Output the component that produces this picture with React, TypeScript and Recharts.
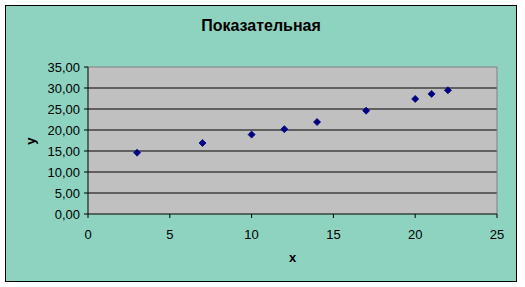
import { ScatterChart, Scatter, XAxis, YAxis, CartesianGrid, ReferenceLine, Label } from "recharts";

const xValues = [3, 7, 10, 12, 14, 17, 20, 21, 22];
const yValues = [14.6, 16.9, 18.9, 20.2, 21.9, 24.6, 27.4, 28.6, 29.45];
const xTicks = [0, 5, 10, 15, 20, 25];
const yTicks = [0, 5, 10, 15, 20, 25, 30, 35];
const title = "Показательная";

const points = xValues.map((x, i) => ({ x, y: yValues[i] }));

const FONT = "Arial, 'Liberation Sans', sans-serif";

const Diamond = (props: any) => {
     const { cx, cy } = props;
     const r = 3.5;
     return (
          <path
               d={`M${cx},${cy - r}L${cx + r},${cy}L${cx},${cy + r}L${cx - r},${cy}Z`}
               fill="#000080"
               stroke="#000080"
               strokeWidth={0.8}
          />
     );
};

export default function App() {
     return (
          <div style={{ position: "absolute", left: 0, top: 0, width: 525, height: 287, background: "#fff" }}>
               <div
                    style={{
                         position: "absolute",
                         left: 5,
                         top: 5,
                         width: 510,
                         height: 275,
                         border: "1px solid #000",
                         background: "#8ED3BF",
                         fontFamily: FONT,
                    }}
               >
                    <div
                         style={{
                              position: "absolute",
                              left: 0,
                              top: 12,
                              width: 510,
                              textAlign: "center",
                              fontSize: 16,
                              lineHeight: "16px",
                              fontWeight: "bold",
                              color: "#000",
                         }}
                    >
                         {title}
                    </div>
                    <ScatterChart
                         width={510}
                         height={275}
                         margin={{ top: 61, right: 19, bottom: 0, left: 0 }}
                         style={{ position: "absolute", left: 0, top: 0 }}
                    >
                         <CartesianGrid
                              vertical={false}
                              horizontalValues={[5, 10, 15, 20, 25, 30]}
                              stroke="#000"
                              strokeOpacity={1}
                              fill="#C0C0C0"
                              fillOpacity={1}
                         />
                         <XAxis
                              type="number"
                              dataKey="x"
                              domain={[0, 25]}
                              ticks={xTicks}
                              interval={0}
                              height={67}
                              tickSize={4}
                              tickMargin={12}
                              axisLine={{ stroke: "#000" }}
                              tickLine={{ stroke: "#000" }}
                              tick={{ fill: "#000", fontSize: 13, fontFamily: FONT }}
                         >
                              <Label
                                   content={(p: any) => {
                                        const vb = p.viewBox;
                                        return (
                                             <text
                                                  x={vb.x + vb.width / 2}
                                                  y={256}
                                                  textAnchor="middle"
                                                  fontSize={13}
                                                  fontWeight="bold"
                                                  fontFamily={FONT}
                                                  fill="#000"
                                             >
                                                  x
                                             </text>
                                        );
                                   }}
                              />
                         </XAxis>
                         <YAxis
                              type="number"
                              dataKey="y"
                              domain={[0, 35]}
                              ticks={yTicks}
                              interval={0}
                              width={82}
                              tickSize={4}
                              tickMargin={4}
                              axisLine={{ stroke: "#000" }}
                              tickLine={{ stroke: "#000" }}
                              tickFormatter={(v: number) => v.toFixed(2).replace(".", ",")}
                              tick={{ fill: "#000", fontSize: 13, fontFamily: FONT }}
                         >
                              <Label
                                   content={() => (
                                        <text
                                             x={24}
                                             y={135}
                                             textAnchor="middle"
                                             dominantBaseline="central"
                                             transform="rotate(-90, 24, 135)"
                                             fontSize={13}
                                             fontWeight="bold"
                                             fontFamily={FONT}
                                             fill="#000"
                                        >
                                             y
                                        </text>
                                   )}
                              />
                         </YAxis>
                         <ReferenceLine y={35} stroke="#808080" strokeWidth={1} />
                         <ReferenceLine x={25} stroke="#808080" strokeWidth={1} />
                         <Scatter data={points} shape={Diamond} isAnimationActive={false} />
                    </ScatterChart>
               </div>
          </div>
     );
}
